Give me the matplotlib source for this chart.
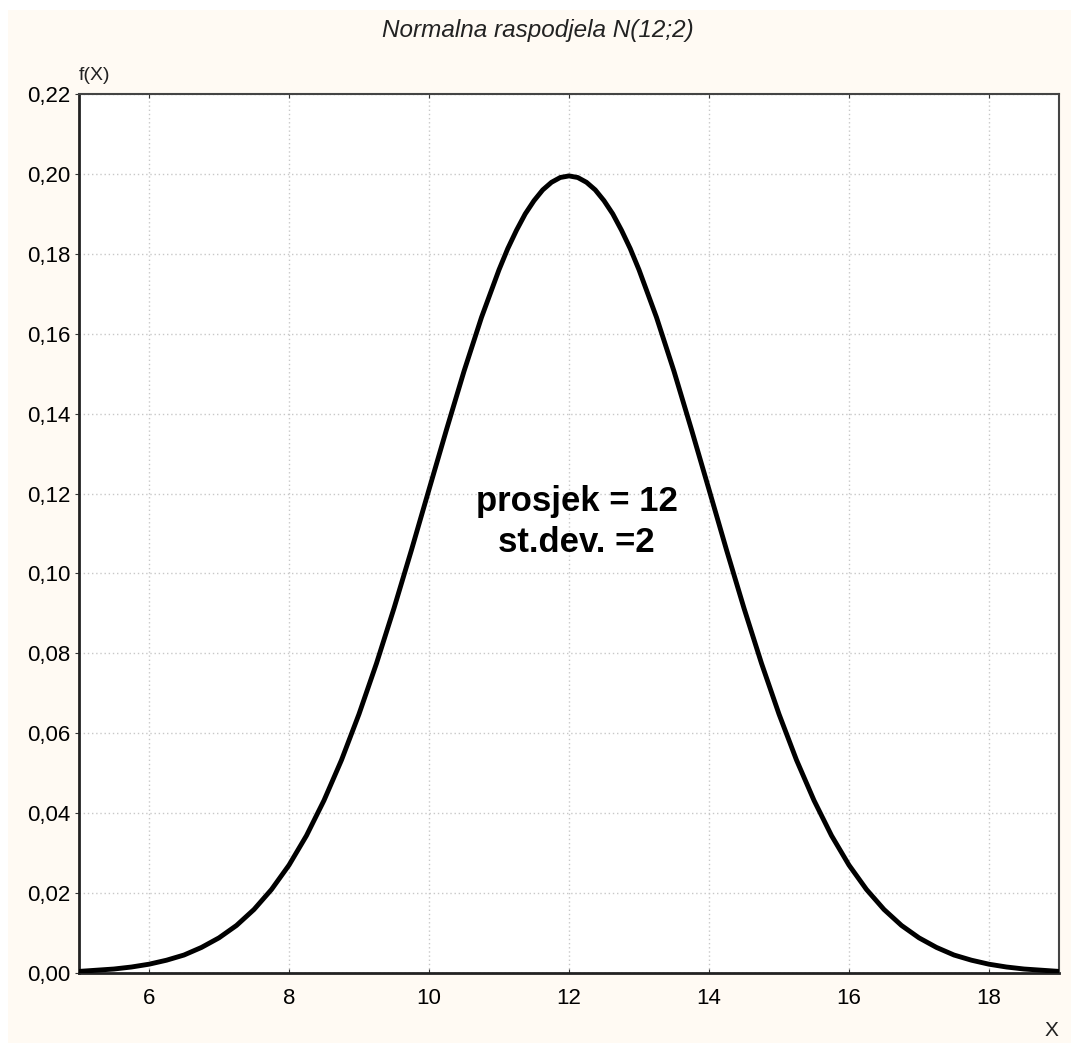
import numpy as np
import matplotlib.pyplot as plt

# values, N(12;2)
x_vals = [5.0, 5.25, 5.5, 5.75, 6.0, 6.25, 6.5, 6.75, 7.0, 7.25, 7.5, 7.75,
          8.0, 8.25, 8.5, 8.75, 9.0, 9.25, 9.5, 9.75, 10.0, 10.25, 10.5, 10.75,
          11.0, 11.125, 11.25, 11.375, 11.5, 11.625, 11.75, 11.875, 12.0,
          12.125, 12.25, 12.375, 12.5, 12.625, 12.75, 12.875, 13.0, 13.25, 13.5,
          13.75, 14.0, 14.25, 14.5, 14.75, 15.0, 15.25, 15.5, 15.75, 16.0, 16.25,
          16.5, 16.75, 17.0, 17.25, 17.5, 17.75, 18.0, 18.25, 18.5, 18.75, 19.0]
fx_vals = [0.0004, 0.0007, 0.0010, 0.0015, 0.0022, 0.0032, 0.0045, 0.0064,
           0.0088, 0.0119, 0.0159, 0.0209, 0.0270, 0.0344, 0.0432, 0.0533,
           0.0648, 0.0775, 0.0913, 0.1059, 0.1210, 0.1360, 0.1506, 0.1641,
           0.1760, 0.1813, 0.1859, 0.1900, 0.1933, 0.1960, 0.1979, 0.1991, 0.1995,
           0.1991, 0.1979, 0.1960, 0.1933, 0.1900, 0.1859, 0.1813, 0.1760,
           0.1641, 0.1506, 0.1360, 0.1210, 0.1059, 0.0913, 0.0775,
           0.0648, 0.0533, 0.0432, 0.0344, 0.0270, 0.0209, 0.0159, 0.0119,
           0.0088, 0.0064, 0.0045, 0.0032, 0.0022, 0.0015, 0.0010, 0.0007, 0.0004]

x_ticks = [6, 8, 10, 12, 14, 16, 18]
y_ticks = [0.00, 0.02, 0.04, 0.06, 0.08, 0.10, 0.12, 0.14, 0.16, 0.18, 0.20, 0.22]
y_labels = [f"{v:.2f}".replace(".", ",") for v in y_ticks]

plt.rcParams['font.family'] = ['Liberation Sans', 'DejaVu Sans']

fig = plt.figure(figsize=(10.71, 10.45), dpi=100, facecolor='white')
# cream panel behind the chart
fig.patches.append(plt.Rectangle((8 / 1071, 0.002), 1 - 8 / 1071, 1 - 10 / 1045 - 0.002,
                                 transform=fig.transFigure, facecolor='#fffaf3',
                                 edgecolor='none', zorder=-10))

ax = fig.add_axes([79 / 1071, 1 - 973 / 1045, 980 / 1071, 879 / 1045])
ax.set_zorder(2)
ax.set_facecolor('white')
ax.plot(x_vals, fx_vals, color='black', linewidth=3.5, solid_joinstyle='round', zorder=3)

ax.set_xlim(5, 19)
ax.set_ylim(0, 0.22)
ax.set_xticks(x_ticks)
ax.set_yticks(y_ticks)
ax.set_yticklabels(y_labels)
ax.tick_params(axis='x', direction='in', length=3, labelsize=16, pad=11,
               color='#333333', top=True)
ax.tick_params(axis='y', direction='out', length=3, labelsize=16, pad=3, color='#333333')
ax.grid(True, color='#c8c8c8', linestyle=(0, (1, 2)), linewidth=1)

for side in ['left', 'bottom']:
    ax.spines[side].set_linewidth(2)
    ax.spines[side].set_color('#222222')
for side in ['top', 'right']:
    ax.spines[side].set_linewidth(1.5)
    ax.spines[side].set_color('#444444')

fig.text(538 / 1071, 1 - 31 / 1045, 'Normalna raspodjela N(12;2)', ha='center', va='center',
         fontsize=17.5, style='italic', color='#222222')
fig.text(79 / 1071, 1 - 76 / 1045, 'f(X)', ha='left', va='center', fontsize=14, color='#222222')
fig.text(1051 / 1071, 1 - 1030 / 1045, 'X', ha='center', va='center', fontsize=15, color='#222222')

ax.text(12.11, 0.1128, 'prosjek = 12\nst.dev. =2', ha='center', va='center',
        fontsize=25, fontweight='bold', linespacing=1.3, zorder=4)

fig.savefig('out.png', dpi=100, facecolor=fig.get_facecolor())
